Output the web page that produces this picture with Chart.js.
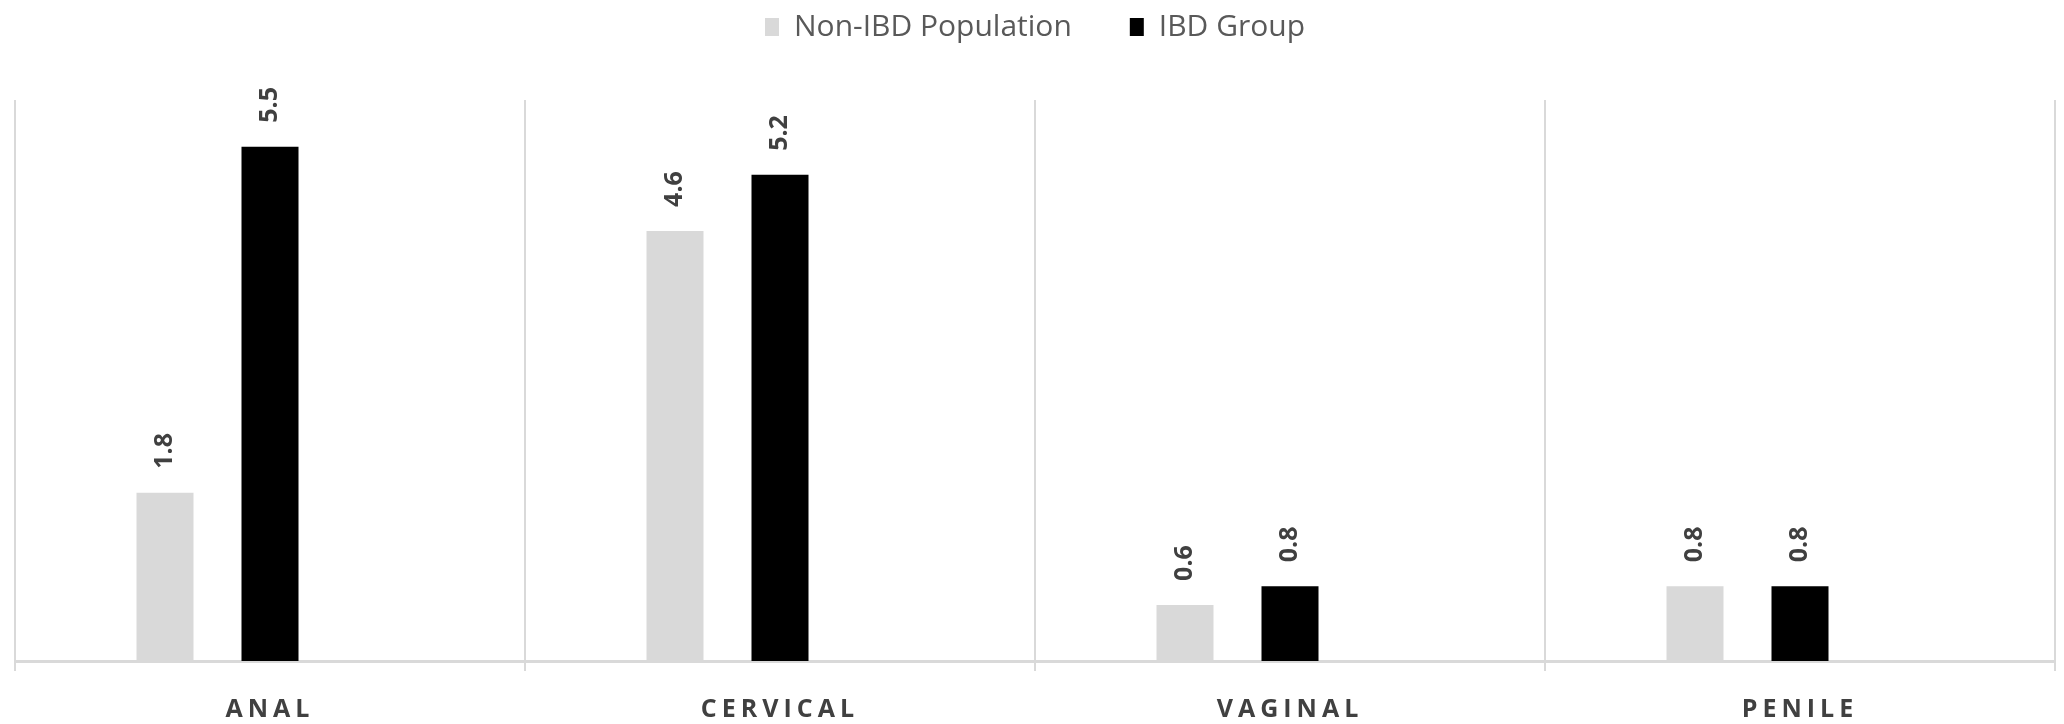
<!DOCTYPE html>
<html>
<head>
<meta charset="utf-8">
<title>HPV infection sites</title>
<script src="https://cdn.jsdelivr.net/npm/chart.js@4.4.1/dist/chart.umd.min.js"></script>
<style>
  html, body { margin: 0; padding: 0; background: #ffffff; }
  #wrap { position: relative; width: 2064px; height: 724px; }
</style>
</head>
<body>
<div id="wrap"><canvas id="chart"></canvas></div>
<script>
// Categories and series values
const categories = ['ANAL', 'CERVICAL', 'VAGINAL', 'PENILE'];
const seriesNames = ['Non-IBD Population', 'IBD Group'];
const nonIbdValues = [1.8, 4.6, 0.6, 0.8];
const ibdValues = [5.5, 5.2, 0.8, 0.8];
const emptySlot = [null, null, null, null];

const FONT = "'Open Sans', 'DejaVu Sans', sans-serif";

// Rotated value labels above each bar; afterwards the category
// labels (drawn on a later layer) get letter spacing.
const valueLabels = {
  id: 'valueLabels',
  afterDatasetsDraw(chart) {
    const ctx = chart.ctx;
    ctx.save();
    ctx.font = 'bold 25px ' + FONT;
    ctx.fillStyle = '#404040';
    ctx.textAlign = 'left';
    ctx.textBaseline = 'middle';
    [0, 1].forEach(di => {
      const meta = chart.getDatasetMeta(di);
      const values = chart.data.datasets[di].data;
      meta.data.forEach((bar, i) => {
        if (values[i] == null) return;
        ctx.save();
        ctx.translate(bar.x, bar.y - 24);
        ctx.rotate(-Math.PI / 2);
        ctx.fillText(values[i].toFixed(1), 0, 0);
        ctx.restore();
      });
    });
    ctx.restore();
    ctx.letterSpacing = '5px';
  },
  afterDraw(chart) {
    chart.ctx.letterSpacing = '0px';
  }
};

new Chart(document.getElementById('chart'), {
  type: 'bar',
  data: {
    labels: categories,
    datasets: [
      { label: seriesNames[0], data: nonIbdValues, backgroundColor: '#d9d9d9' },
      { label: seriesNames[1], data: ibdValues, backgroundColor: '#000000' },
      { label: '', data: emptySlot, backgroundColor: 'rgba(0,0,0,0)' }
    ]
  },
  options: {
    responsive: true,
    maintainAspectRatio: false,
    animation: false,
    devicePixelRatio: 1,
    datasets: {
      bar: { categoryPercentage: 0.6176, barPercentage: 0.543 }
    },
    layout: { padding: { top: -46, left: 15, right: 9, bottom: -25 } },
    plugins: {
      tooltip: { enabled: false },
      legend: {
        position: 'top',
        align: 'center',
        labels: {
          filter: item => item.datasetIndex < 2,
          boxWidth: 14,
          boxHeight: 18,
          padding: 58,
          color: '#595959',
          font: { family: FONT, size: 30 }
        }
      },
      title: {
        display: true,
        text: '',
        weight: 500,
        font: { size: 10, lineHeight: 1 },
        padding: { top: 38, bottom: 0 }
      }
    },
    scales: {
      x: {
        grid: {
          display: true,
          offset: true,
          color: '#d9d9d9',
          lineWidth: 2,
          drawTicks: true,
          tickLength: 10
        },
        border: { display: true, color: '#d9d9d9', width: 3 },
        ticks: {
          z: 1,
          padding: 24,
          autoSkip: false,
          maxRotation: 0,
          color: '#404040',
          font: { family: FONT, size: 25, weight: 'bold', lineHeight: 1.2 }
        }
      },
      y: {
        display: false,
        min: 0,
        max: 6
      }
    }
  },
  plugins: [valueLabels]
});
</script>
</body>
</html>
